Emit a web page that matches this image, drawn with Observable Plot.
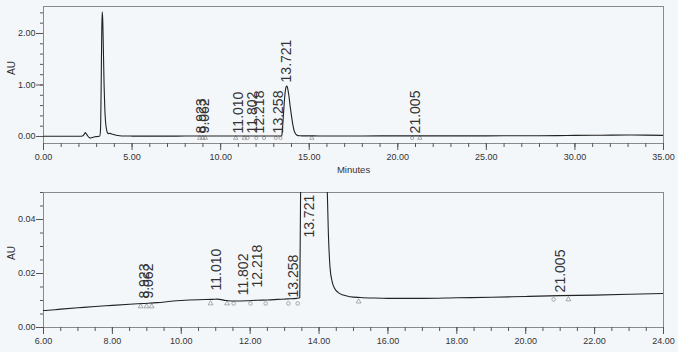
<!DOCTYPE html>
<html><head><meta charset="utf-8">
<script src="https://cdn.jsdelivr.net/npm/d3@7"></script>
<script src="https://cdn.jsdelivr.net/npm/@observablehq/plot@0.6"></script>
<style>
html,body{margin:0;padding:0;background:#f4f7fa;}
#chart{width:678px;height:352px;overflow:hidden;}
svg{display:block;}
</style></head><body><div id="chart"></div>
<script>
// Chromatogram trace (minutes, AU)
const traceTime = [0, 0.5, 1, 1.5, 2, 2.2, 2.3, 2.36, 2.42, 2.5, 2.58, 2.65, 2.75, 2.9, 3.05, 3.18, 3.22, 3.25, 3.28, 3.31, 3.34, 3.38, 3.42, 3.46, 3.5, 3.55, 3.6, 3.68, 3.76, 3.85, 3.95, 4.1, 4.3, 4.6, 5.0, 5.5, 6.0, 6.5, 7, 7.5, 8, 8.5, 8.9, 9.3, 9.7, 10.0, 10.5, 10.9, 11.05, 11.3, 11.6, 11.9, 12.2, 12.5, 12.8, 13.1, 13.35, 13.44, 13.47, 13.5, 13.55, 13.6, 13.65, 13.7, 13.74, 13.78, 13.85, 13.92, 14.0, 14.08, 14.15, 14.22, 14.27, 14.32, 14.38, 14.45, 14.55, 14.7, 14.9, 15.2, 15.6, 16, 17, 18, 19, 20, 21, 22, 23, 24, 25, 26, 27, 28, 29, 30, 31, 32, 33, 34, 35];
const traceAU = [0.004, 0.004, 0.005, 0.005, 0.006, 0.01, 0.045, 0.075, 0.05, 0.01, -0.02, -0.03, -0.02, -0.005, 0.0, 0.01, 0.15, 0.8, 1.8, 2.42, 2.3, 1.7, 1.0, 0.55, 0.3, 0.15, 0.08, 0.055, 0.06, 0.05, 0.04, 0.025, 0.015, 0.01, 0.008, 0.007, 0.0063, 0.0068, 0.0073, 0.0078, 0.0082, 0.0086, 0.0089, 0.0092, 0.0097, 0.0100, 0.0103, 0.0104, 0.0105, 0.0100, 0.0098, 0.0099, 0.0101, 0.0102, 0.0104, 0.0106, 0.0108, 0.011, 0.06, 0.2, 0.45, 0.7, 0.88, 0.97, 0.98, 0.94, 0.8, 0.6, 0.4, 0.22, 0.11, 0.06, 0.035, 0.022, 0.017, 0.0145, 0.013, 0.012, 0.0114, 0.0111, 0.0109, 0.0108, 0.0108, 0.011, 0.0112, 0.0115, 0.0118, 0.012, 0.0123, 0.0126, 0.013, 0.0135, 0.014, 0.015, 0.017, 0.021, 0.024, 0.026, 0.028, 0.027, 0.022];

// Peak labels
const peakTimes = [8.923, 9.062, 11.010, 11.802, 12.218, 13.258, 13.721, 21.005];
const peakLabels = ["8.923", "9.062", "11.010", "11.802", "12.218", "13.258", "13.721", "21.005"];
const peakLabelTopAU = [0.06, 0.06, 0.06, 0.06, 0.06, 0.06, 1.05, 0.06];
const peakLabelZoomAU = [0.0107, 0.0107, 0.0137, 0.0119, 0.0148, 0.0111, 0.0333, 0.013];

// Integration markers
const markerTimes = [8.82, 8.99, 9.14, 10.85, 11.33, 11.52, 12.01, 12.45, 13.11, 13.38, 15.15, 20.81, 21.24];
const markerZoomAU = [0.0078, 0.0078, 0.0078, 0.0089, 0.0089, 0.0089, 0.0089, 0.0089, 0.0089, 0.0089, 0.0096, 0.0104, 0.0104];
const markerTopAU = [-0.03, -0.03, -0.03, -0.03, -0.03, -0.03, -0.03, -0.03, -0.03, -0.03, -0.03, -0.03, -0.03];
const markerSymbols = ["triangle", "triangle", "triangle", "triangle", "triangle", "circle", "circle", "circle", "circle", "circle", "triangle", "circle", "triangle"];

// Axis ticks
const topXTicks = [0, 5, 10, 15, 20, 25, 30, 35];
const topYTicks = [0, 1, 2];
const zoomXTicks = [6, 8, 10, 12, 14, 16, 18, 20, 22, 24];
const zoomYTicks = [0, 0.02, 0.04];

const traceIdx = d3.range(traceTime.length);
const peakIdx = d3.range(peakTimes.length);
const markerIdx = d3.range(markerTimes.length);
const fmt = d3.format(".2f");
const font = "'Liberation Sans', Arial, sans-serif";
const tickStroke = "#555";
const textFill = "#333";

const overviewChart = Plot.plot({
  width: 678, height: 180,
  marginLeft: 43, marginRight: 15, marginTop: 6, marginBottom: 37,
  style: {fontFamily: font, background: "transparent"},
  x: {domain: [0, 35]},
  y: {domain: [-0.136, 2.524]},
  marks: [
    Plot.frame({stroke: "#8a8a8a"}),
    Plot.axisX({ticks: d3.range(0, 35.5, 1), tickSize: 4, tickFormat: () => "", label: null, stroke: tickStroke}),
    Plot.axisX({ticks: topXTicks, tickSize: 7, tickPadding: 3, tickFormat: fmt, label: null, fontSize: 9, stroke: tickStroke, fill: textFill}),
    Plot.axisY({ticks: d3.range(0, 2.45, 0.2), tickSize: 3, tickFormat: () => "", label: null, stroke: tickStroke}),
    Plot.axisY({ticks: topYTicks, tickSize: 7, tickPadding: 1, tickFormat: fmt, label: null, fontSize: 9, stroke: tickStroke, fill: textFill}),
    Plot.text(["AU"], {text: d => d, frameAnchor: "left", dx: -32, rotate: -90, fontSize: 10, fill: textFill}),
    Plot.text(["Minutes"], {text: d => d, frameAnchor: "bottom", dy: 29, fontSize: 9.5, fill: textFill}),
    Plot.dot(markerIdx, {x: i => markerTimes[i], y: i => markerTopAU[i], symbol: i => markerSymbols[i], r: 1.6, stroke: "#888", strokeWidth: 0.7, fill: "none"}),
    Plot.line(traceIdx, {x: i => traceTime[i], y: i => traceAU[i], stroke: "#222", strokeWidth: 1.1, curve: "monotone-x", clip: true}),
    Plot.text(peakIdx, {x: i => peakTimes[i], y: i => peakLabelTopAU[i], text: i => peakLabels[i], rotate: -90, textAnchor: "start", fontSize: 14, fill: "#333"})
  ]
});

const zoomChart = Plot.plot({
  width: 678, height: 172,
  marginLeft: 43, marginRight: 15, marginTop: 12, marginBottom: 25,
  style: {fontFamily: font, background: "transparent"},
  x: {domain: [6, 24]},
  y: {domain: [0, 0.05]},
  marks: [
    Plot.frame({stroke: "#8a8a8a"}),
    Plot.axisX({ticks: d3.range(6, 24.25, 0.5), tickSize: 4, tickFormat: () => "", label: null, stroke: tickStroke}),
    Plot.axisX({ticks: zoomXTicks, tickSize: 7, tickPadding: 3, tickFormat: fmt, label: null, fontSize: 9, stroke: tickStroke, fill: textFill}),
    Plot.axisY({ticks: d3.range(0, 0.0501, 0.005), tickSize: 3, tickFormat: () => "", label: null, stroke: tickStroke}),
    Plot.axisY({ticks: zoomYTicks, tickSize: 7, tickPadding: 1, tickFormat: fmt, label: null, fontSize: 9, stroke: tickStroke, fill: textFill}),
    Plot.text(["AU"], {text: d => d, frameAnchor: "left", dx: -32, rotate: -90, fontSize: 10, fill: textFill}),
    Plot.dot(markerIdx, {x: i => markerTimes[i], y: i => markerZoomAU[i], symbol: i => markerSymbols[i], r: 1.8, stroke: "#888", strokeWidth: 0.7, fill: "none"}),
    Plot.line(traceIdx, {x: i => traceTime[i], y: i => traceAU[i], stroke: "#222", strokeWidth: 1.1, curve: "monotone-x", clip: true}),
    Plot.text(peakIdx, {x: i => peakTimes[i], y: i => peakLabelZoomAU[i], text: i => peakLabels[i], rotate: -90, textAnchor: "start", fontSize: 14, fill: "#333"})
  ]
});

const host = document.getElementById("chart");
host.appendChild(overviewChart);
host.appendChild(zoomChart);
</script>
</body></html>
